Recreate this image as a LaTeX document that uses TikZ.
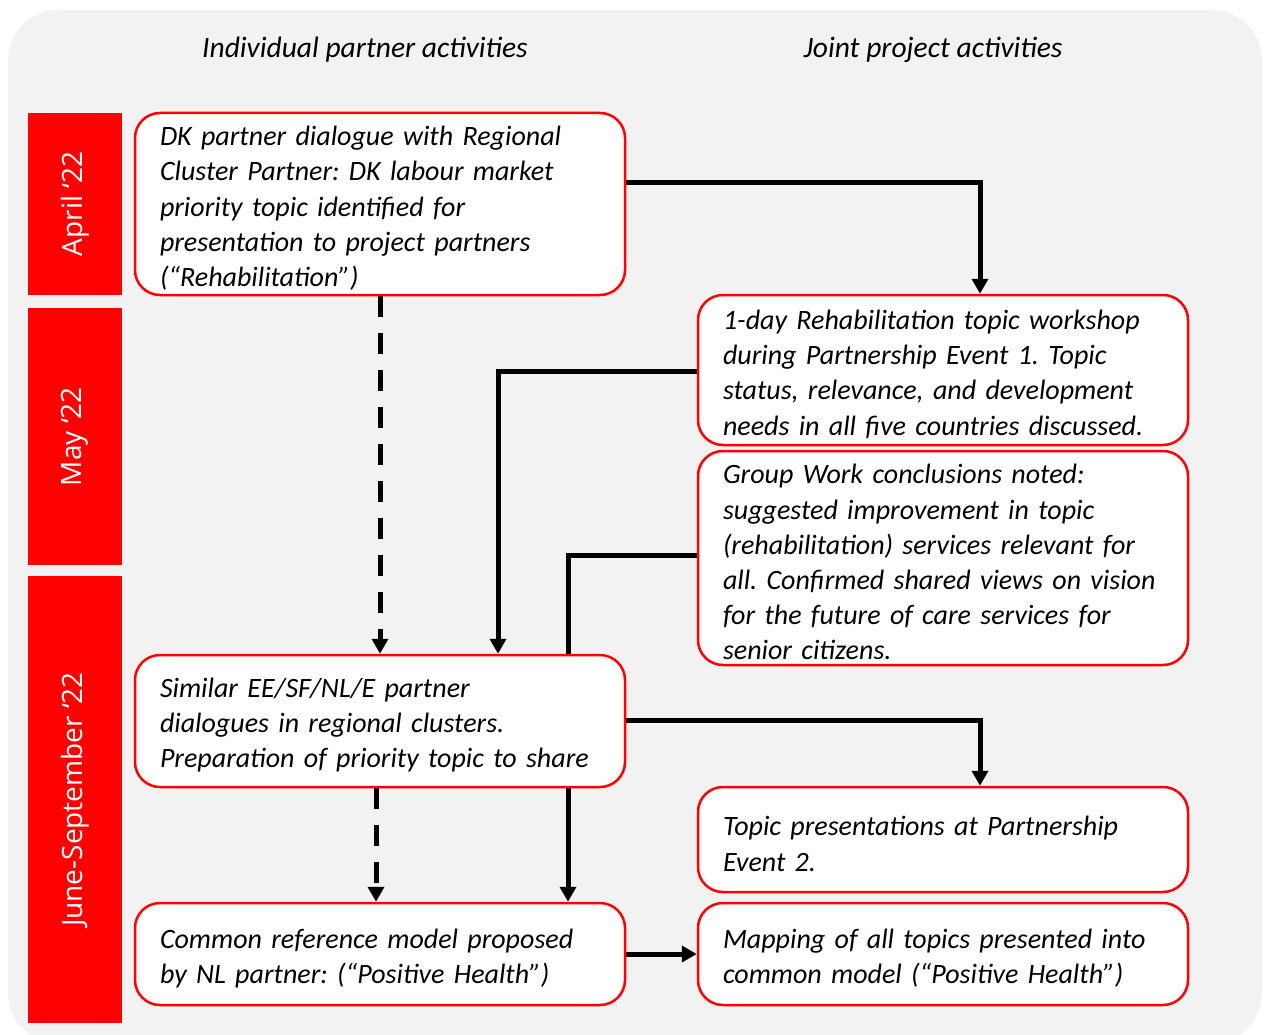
\documentclass[tikz,border=0pt]{standalone}
\usepackage{fontspec}
\setmainfont{Carlito}
\newfontfamily\barfont{Open Sans}
\usetikzlibrary{arrows.meta,backgrounds}
\frenchspacing

\definecolor{panelgray}{HTML}{F2F2F2}
\definecolor{barred}{HTML}{FF0000}

\tikzset{
  every node/.style={font=\fontsize{28}{35.2}\selectfont\itshape},
  actbox/.style={draw=barred, line width=2.5pt, fill=white,
    rounded corners=25pt, text width=440pt, align=left,
    inner xsep=25pt, inner ysep=0pt, minimum width=490pt,
    execute at begin node={\rule{0pt}{28pt}}},
  phasebar/.style={fill=barred, text=white, rotate=90, inner sep=0pt,
    minimum height=94pt,
    font=\barfont\fontsize{28}{32}\selectfont},
  header/.style={inner sep=0pt, anchor=base,
    font=\fontsize{29.5}{35}\selectfont\itshape},
  conn/.style={line width=5pt, -{Triangle[width=16pt,length=15pt]}},
  dashconn/.style={conn, dash pattern=on 21pt off 16pt},
}

\begin{document}
\begin{tikzpicture}[x=1pt, y=-1pt]
  \useasboundingbox (0,0) rectangle (1265,1035);

  % column headings
  \node[header] (hleft) at (365,58) {Individual partner activities};
  \node[header] (hright) at (933,58) {Joint project activities};

  % phase bars
  \node[phasebar, minimum width=182pt] (apr) at (75,204) {April ‘22};
  \node[phasebar, minimum width=257pt] (may) at (75,436.5) {May ‘22};
  \node[phasebar, minimum width=447pt] (jun) at (75,799.5) {June-September ‘22};

  % activity boxes
  \node[actbox, minimum height=182pt] (A) at (380,204)
    {DK partner dialogue with Regional\\Cluster Partner: DK labour market\\priority topic identified for\\presentation to project partners\\(“Rehabilitation”)};
  \node[actbox, minimum height=150pt] (B) at (943,370)
    {1-day Rehabilitation topic workshop\\during Partnership Event 1. Topic\\status, relevance, and development\\needs in all five countries discussed.};
  \node[actbox, minimum height=214pt] (C) at (943,558)
    {Group Work conclusions noted:\\suggested improvement in topic\\(rehabilitation) services relevant for\\all. Confirmed shared views on vision\\for the future of care services for\\senior citizens.};
  \node[actbox, minimum height=132pt] (D) at (380,721)
    {Similar EE/SF/NL/E partner\\dialogues in regional clusters.\\Preparation of priority topic to share};
  \node[actbox, minimum height=105pt] (E) at (943,839.5)
    {Topic presentations at Partnership\\Event 2.};
  \node[actbox, minimum height=102pt] (F) at (380,954)
    {Common reference model proposed\\by NL partner: (“Positive Health”)};
  \node[actbox, minimum height=102pt] (G) at (943,954)
    {Mapping of all topics presented into\\common model (“Positive Health”)};

  \begin{pgfonlayer}{background}
    % grey panel with rounded corners, cut off at the lower edge
    \begin{scope}
      \clip (0,0) rectangle (1265,1035);
      \fill[panelgray, rounded corners=50pt] (8,10) rectangle (1262,1043);
    \end{scope}
    % connectors, kept behind the boxes
    \draw[conn] (A.east |- 0,183) -| (B.north -| 980,0);
    \draw[conn] (B.west |- 0,371) -| (D.north -| 498,0);
    \draw[conn] (C.west |- 0,555) -| (F.north -| 568,0);
    \draw[dashconn] (A.south -| 380,0) -- (D.north -| 380,0);
    \draw[dashconn] (D.south -| 376,0) -- (F.north -| 376,0);
    \draw[conn] (D.east |- 0,720) -| (E.north -| 980,0);
    \draw[conn] (F.east) -- (G.west);
  \end{pgfonlayer}
\end{tikzpicture}
\end{document}
